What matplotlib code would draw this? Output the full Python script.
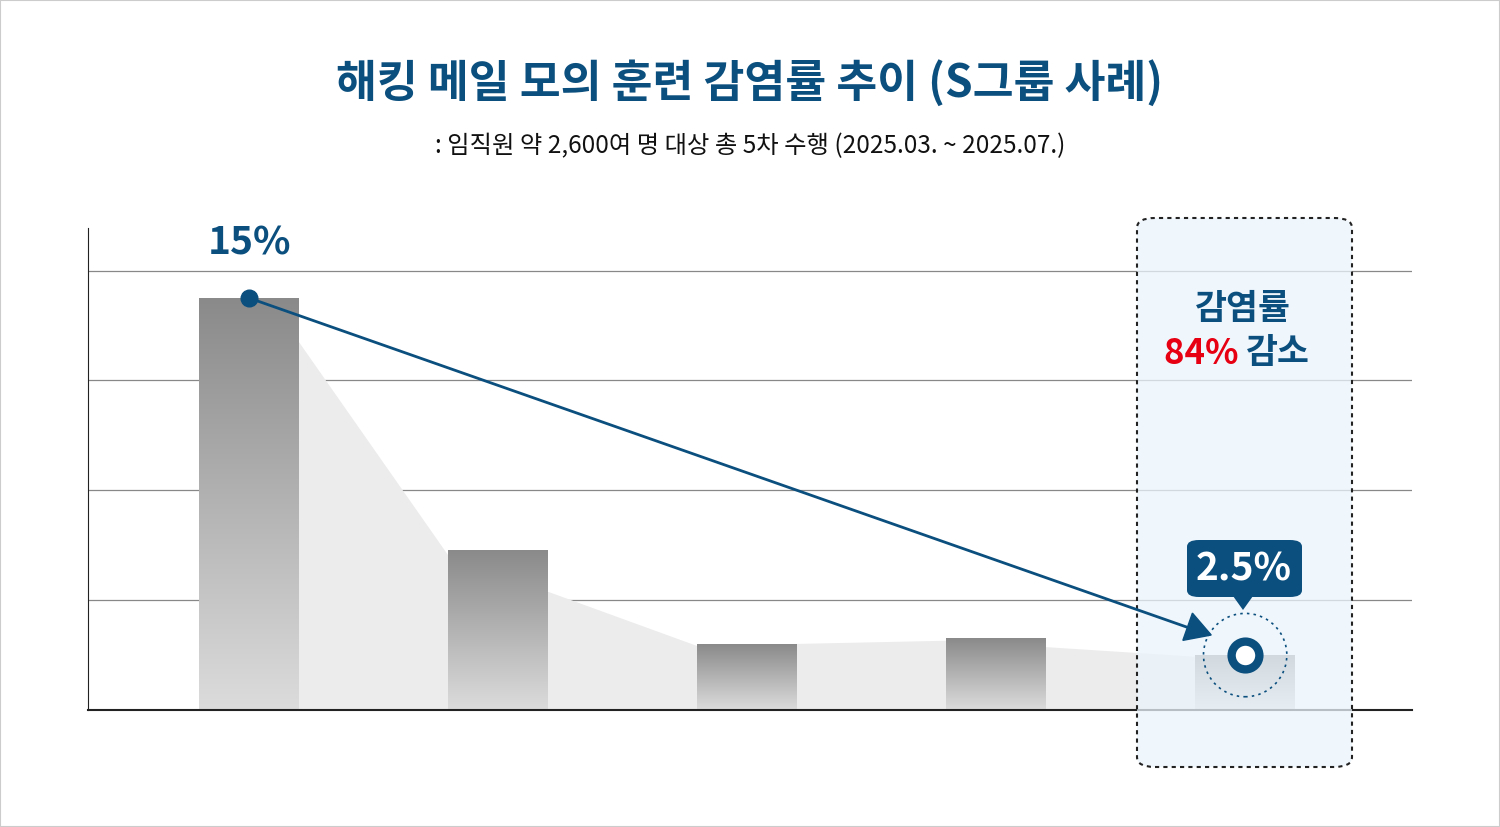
import numpy as np
import matplotlib.pyplot as plt
from matplotlib.colors import LinearSegmentedColormap
from matplotlib.patches import FancyBboxPatch, Polygon, Rectangle

plt.rcParams['font.family'] = ['Noto Sans CJK KR', 'DejaVu Sans']

rounds = [0, 1, 2, 3, 4]
rates = [15.0, 5.8, 2.4, 2.6, 2.0]
first_label = "15%"
last_label = "2.5%"
title = "해킹 메일 모의 훈련 감염률 추이 (S그룹 사례)"
subtitle = ": 임직원 약 2,600여 명 대상 총 5차 수행 (2025.03. ~ 2025.07.)"

NAVY = "#0b4f7e"
RED = "#e60012"
W, H = 1500, 827

fig = plt.figure(figsize=(15, 8.27), dpi=100)
fig.patches.append(Rectangle((0, 0), 1, 1, transform=fig.transFigure, fill=False,
                             ec="#cccccc", lw=1.5))

ax = fig.add_axes([88 / W, 1 - 710 / H, 1324 / W, 482 / H])
ax.set_facecolor("none")
ax.set_yticks([4, 8, 12, 16])
ax.yaxis.grid(True, color="#888888", lw=0.9)
ax.set_axisbelow(True)
ax.tick_params(left=False, bottom=False, labelleft=False, labelbottom=False)
for s in ["top", "right"]:
    ax.spines[s].set_visible(False)
ax.spines["left"].set_color("#222222")
ax.spines["bottom"].set_color("#222222")
ax.spines["bottom"].set_linewidth(1.5)

# highlight box, semi-transparent over the last bar
box = dict(boxstyle="round,pad=0,rounding_size=0.012", transform=fig.transFigure,
           clip_on=False)
ax.add_patch(FancyBboxPatch((1137 / W, 1 - 767 / H), 215 / W, 549 / H,
                            fc="#eaf4fc", ec="none", alpha=0.75, zorder=3, **box))
ax.add_patch(FancyBboxPatch((1137 / W, 1 - 767 / H), 215 / W, 549 / H,
                            fill=False, ec="#222222", ls=(0, (2, 2)), lw=1.5,
                            zorder=3, **box))

bw = 0.40
shade = [(rounds[0] + bw / 2, rates[0] - 1.6)]
shade += [(rounds[i] - bw / 2, rates[i] * 0.97) for i in range(1, 5)]
shade += [(rounds[4] + bw / 2, 0), (rounds[0] + bw / 2, 0)]
ax.add_patch(Polygon(shade, closed=True, fc="#ececec", ec="none", zorder=1))

grad = np.linspace(0, 1, 256).reshape(-1, 1)
cmap = LinearSegmentedColormap.from_list("g", ["#dcdcdc", "#8a8a8a"])
for x, v in zip(rounds, rates):
    ax.imshow(grad, cmap=cmap, origin="lower", aspect="auto",
              extent=(x - bw / 2, x + bw / 2, 0, v), zorder=2)
ax.set_xlim(-0.647, 4.67)
ax.set_ylim(0, 17.55)

# trend line
x0, y0 = rounds[0], rates[0]
x1, y1 = rounds[4] - 0.15, rates[4] + 0.75
ax.plot([x0, x1], [y0, y1], color=NAVY, lw=2, zorder=4)
ax.plot(x0, y0, "o", color=NAVY, ms=12, zorder=5)
ang = np.degrees(np.arctan2((y1 - y0) * 27.5, (x1 - x0) * 249))
ax.plot(x1 - 0.05, y1 + 0.2, marker=(3, 0, ang - 90), color=NAVY, ms=24, zorder=5)

# target marker
ax.scatter([rounds[4]], [rates[4]], s=3600, facecolors="none", edgecolors=NAVY,
           linewidths=1.2, linestyles=(0, (1.5, 2.5)), zorder=5)
ax.plot(rounds[4], rates[4], "o", ms=20, mfc="white", mec=NAVY, mew=6, zorder=6)

ax.text(x0, y0 + 1.3, first_label, ha="center", va="bottom", fontsize=28,
        fontweight="bold", color=NAVY, zorder=6)

# callout
fig.patches.append(FancyBboxPatch((1187 / W, 1 - 597 / H), 115 / W, 57 / H,
                                  boxstyle="round,pad=0,rounding_size=0.008",
                                  transform=fig.transFigure, fc=NAVY, ec="none", zorder=5))
fig.patches.append(Polygon([(1233 / W, 1 - 596 / H), (1253 / W, 1 - 596 / H),
                            (1243 / W, 1 - 610 / H)], transform=fig.transFigure,
                           fc=NAVY, ec="none", zorder=5))
fig.text(1244 / W, 1 - 569 / H, last_label, ha="center", va="center", fontsize=28,
         fontweight="bold", color="white", zorder=6)

fig.text(1243 / W, 1 - 308 / H, "감염률", ha="center", va="center", fontsize=25,
         fontweight="bold", color=NAVY)
fig.text(1246 / W, 1 - 353 / H, "감소", ha="left", va="center", fontsize=25,
         fontweight="bold", color=NAVY)
fig.text(1246 / W, 1 - 353 / H, "84% ", ha="right", va="center", fontsize=25,
         fontweight="bold", color=RED)

fig.text(0.5, 1 - 83 / H, title, ha="center", va="center", fontsize=32,
         fontweight="bold", color=NAVY)
fig.text(0.5, 1 - 146 / H, subtitle, ha="center", va="center", fontsize=17.5,
         fontweight="medium", color="#111111")

fig.savefig("out.png", dpi=100)
